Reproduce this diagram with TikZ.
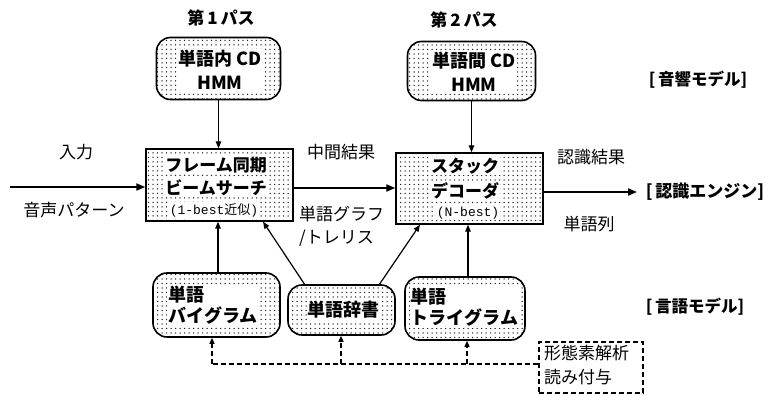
\documentclass[tikz,border=0pt]{standalone}
\usepackage{fontspec}
\setmainfont{Noto Sans CJK JP}
\newfontfamily\mono{Liberation Mono}
\usetikzlibrary{arrows.meta,patterns.meta}
\tikzdeclarepattern{name=sdots,type=uncolored,bounding box={(-2.25pt,-2.25pt) and (2.25pt,2.25pt)},tile size={(4.5pt,4.5pt)},code={\fill (0pt,0pt) circle (0.75pt);}}
\begin{document}
\begin{tikzpicture}[x=1pt,y=-1pt,
  sq/.style={draw, line width=1.3pt, pattern=sdots, pattern color=black!85, inner sep=0pt},
  rbox/.style={draw, line width=1.6pt, rounded corners=14pt, pattern=sdots, pattern color=black!85, inner sep=0pt},
  lbl/.style={inner sep=1pt, font=\fontsize{17}{20}\selectfont},
  btxt/.style={fill=white, inner sep=1pt, font=\bfseries\fontsize{17}{21}\selectfont},
  mtxt/.style={fill=white, inner sep=1pt, font=\fontsize{13}{15}\selectfont},
  arr/.style={line width=1.2pt, -{Triangle[length=7pt,width=5.5pt]}},
  tarr/.style={line width=1.8pt, -{Triangle[length=9pt,width=7pt]}},
  dsh/.style={line width=1.2pt, dash pattern=on 5pt off 3pt},
  darr/.style={dsh, -{Triangle[length=6pt,width=5pt]}}
]
\useasboundingbox (0,0) rectangle (768,396);

% main boxes
\node[sq, minimum width=147pt, minimum height=72pt] (box1) at (219.5,185) {};
\node[sq, minimum width=147pt, minimum height=71pt] (box2) at (469.5,188.5) {};
\node[btxt] (t1a) at (216,165) {フレーム同期};
\node[btxt] (t1b) at (216,188) {ビームサーチ};
\node[mtxt] (t1c) at (214,210) {{\mono (1-best}近似{\mono )}};
\node[btxt, anchor=west] (t2a) at (430,166) {スタック};
\node[btxt, anchor=west] (t2b) at (430,191) {デコーダ};
\node[mtxt] (t2c) at (468,213) {\mono (N-best)};

% top rounded boxes
\node[rbox, minimum width=124pt, minimum height=62pt] (tb1) at (218.5,68.5) {};
\node[rbox, minimum width=128pt, minimum height=59pt] (tb2) at (471.5,71) {};
\node[btxt, align=center, font=\bfseries\fontsize{18}{24}\selectfont] (tt1) at (220,70) {単語内 CD\\HMM};
\node[btxt, align=center, font=\bfseries\fontsize{18}{24}\selectfont] (tt2) at (474,72) {単語間 CD\\HMM};

% bottom rounded boxes
\node[rbox, minimum width=127pt, minimum height=64pt] (bg) at (216.5,305) {};
\node[rbox, minimum width=107pt, minimum height=50pt] (dict) at (341.5,310) {};
\node[rbox, minimum width=120pt, minimum height=63pt] (tg) at (465,308.5) {};
\node[btxt, align=left, font=\bfseries\fontsize{18}{21}\selectfont] (bt1) at (213,305) {単語\\バイグラム};
\node[btxt, font=\bfseries\fontsize{18}{21}\selectfont] (bt2) at (343.5,310) {単語辞書};
\node[btxt, align=left, font=\bfseries\fontsize{18}{21}\selectfont] (bt3) at (464.5,307.5) {単語\\トライグラム};

% dashed box
\node[draw, dsh, minimum width=104pt, minimum height=51pt, inner sep=0pt] (morph) at (591,367.5) {};
\node[lbl, anchor=west, align=left, font=\fontsize{17}{24}\selectfont] (mt) at (543,365) {形態素解析\\読み付与};

% labels
\node[lbl, font=\bfseries\fontsize{17}{20}\selectfont] (p1) at (221,18) {第\,1\,パス};
\node[lbl, font=\bfseries\fontsize{17}{20}\selectfont] (p2) at (464,20) {第\,2\,パス};
\node[lbl, font=\bfseries\fontsize{16.5}{20}\selectfont] (am) at (698,80) {[\,音響モデル]};
\node[lbl, font=\bfseries\fontsize{17}{20}\selectfont] (re) at (705,192) {[\,認識エンジン]};
\node[lbl, font=\bfseries\fontsize{16.5}{20}\selectfont] (lm) at (695,307) {[\,言語モデル]};
\node[lbl] (in) at (76,152) {入力};
\node[lbl] (vp) at (74,210) {音声パターン};
\node[lbl] (mid) at (341,152) {中間結果};
\node[lbl, anchor=west, align=left, font=\fontsize{17}{23}\selectfont] (wg) at (298,226) {単語グラフ\\/トレリス};
\node[lbl] (rr) at (591,157) {認識結果};
\node[lbl] (ws) at (589,224) {単語列};

% coordinates
\coordinate (src) at (10,187);
\coordinate (dst) at (637,192);
\coordinate (d1) at (212,364);
\coordinate (d2) at (341,364);
\coordinate (d3) at (467,364);

% connectors
\draw[tarr] (src) -- (src -| box1.west);
\draw[tarr] ([yshift=-3pt]box1.east) -- ([yshift=-3pt]box1.east -| box2.west);
\draw[tarr] ([yshift=-3.5pt]box2.east) -- (dst);
\draw[arr] (tb1.south) -- (tb1.south |- box1.north);
\draw[arr] (tb2.south) -- (tb2.south |- box2.north);
\draw[arr] ([xshift=1.5pt]bg.north) -- ([xshift=1.5pt]bg.north |- box1.south);
\draw[arr] ([xshift=-37pt]dict.north) -- ([xshift=43.5pt]box1.south);
\draw[arr] ([xshift=38pt]dict.north) -- ([xshift=-49.5pt]box2.south);
\draw[arr] ([xshift=3pt]tg.north) -- ([xshift=3pt]tg.north |- box2.south);
\draw[dsh] (morph.west |- d1) -- (d1);
\draw[darr] (d1) -- (d1 |- bg.south);
\draw[darr] (d2) -- (d2 |- dict.south);
\draw[darr] (d3) -- (d3 |- tg.south);
\end{tikzpicture}
\end{document}
